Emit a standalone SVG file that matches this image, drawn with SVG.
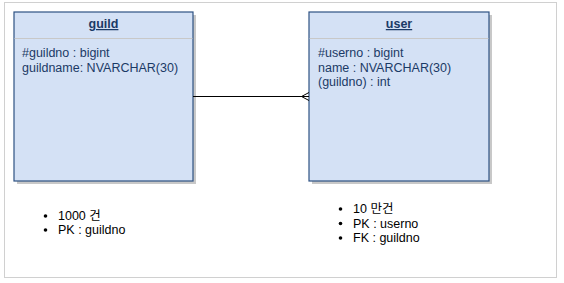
<svg xmlns="http://www.w3.org/2000/svg" width="564" height="283" viewBox="0 0 564 283">
<style>
.frame{fill:#fff;stroke:#d0d0d0;stroke-width:1}
.shadow{fill:#c8c8c8}
.box{fill:#d4e1f5;stroke:#2e5283;stroke-width:1.2}
.sep{stroke:#c8c8c8;stroke-width:1}
.hd{font-family:"Liberation Sans",Arial,sans-serif;font-size:12.5px;font-weight:bold;fill:#1b3a66;text-anchor:middle;text-decoration:underline}
.at{font-family:"Liberation Sans",Arial,sans-serif;font-size:12.5px;fill:#1b3a66}
.li{font-family:"Liberation Sans","Noto Sans CJK KR",sans-serif;font-size:12.5px;fill:#000}
.conn{stroke:#000;stroke-width:1;fill:none}
</style>
<rect class="frame" x="4.5" y="2.5" width="552" height="275"/>
<g id="guild">
<rect class="shadow" x="17" y="15" width="179" height="169"/>
<rect class="box" x="14" y="12" width="179" height="169"/>
<line class="sep" x1="14.6" y1="38.5" x2="192.4" y2="38.5"/>
<text class="hd" x="103.5" y="28">guild</text>
<text class="at" x="22" y="56.5">#guildno : bigint</text>
<text class="at" x="22" y="71.5">guildname: NVARCHAR(30)</text>
</g>
<g id="user">
<rect class="shadow" x="312" y="15" width="180" height="169"/>
<rect class="box" x="309" y="12" width="180" height="169"/>
<line class="sep" x1="309.6" y1="38.5" x2="488.4" y2="38.5"/>
<text class="hd" x="399" y="28">user</text>
<text class="at" x="318" y="56.5">#userno : bigint</text>
<text class="at" x="318" y="71.5">name : NVARCHAR(30)</text>
<text class="at" x="318" y="86">(guildno) : int</text>
</g>
<g id="connectors">
<path class="conn" d="M193 96.5 H309 M301.5 96.5 L309 92.5 M301.5 96.5 L309 100.5"/>
</g>
<g id="guild-notes">
<circle cx="45.5" cy="216" r="1.8" fill="#000"/>
<circle cx="45.5" cy="230" r="1.8" fill="#000"/>
<text class="li" x="58" y="220">1000 건</text>
<text class="li" x="58" y="234">PK : guildno</text>
</g>
<g id="user-notes">
<circle cx="340.5" cy="209" r="1.8" fill="#000"/>
<circle cx="340.5" cy="223.5" r="1.8" fill="#000"/>
<circle cx="340.5" cy="238" r="1.8" fill="#000"/>
<text class="li" x="353" y="213">10 만건</text>
<text class="li" x="353" y="227.5">PK : userno</text>
<text class="li" x="353" y="242">FK : guildno</text>
</g>
</svg>
